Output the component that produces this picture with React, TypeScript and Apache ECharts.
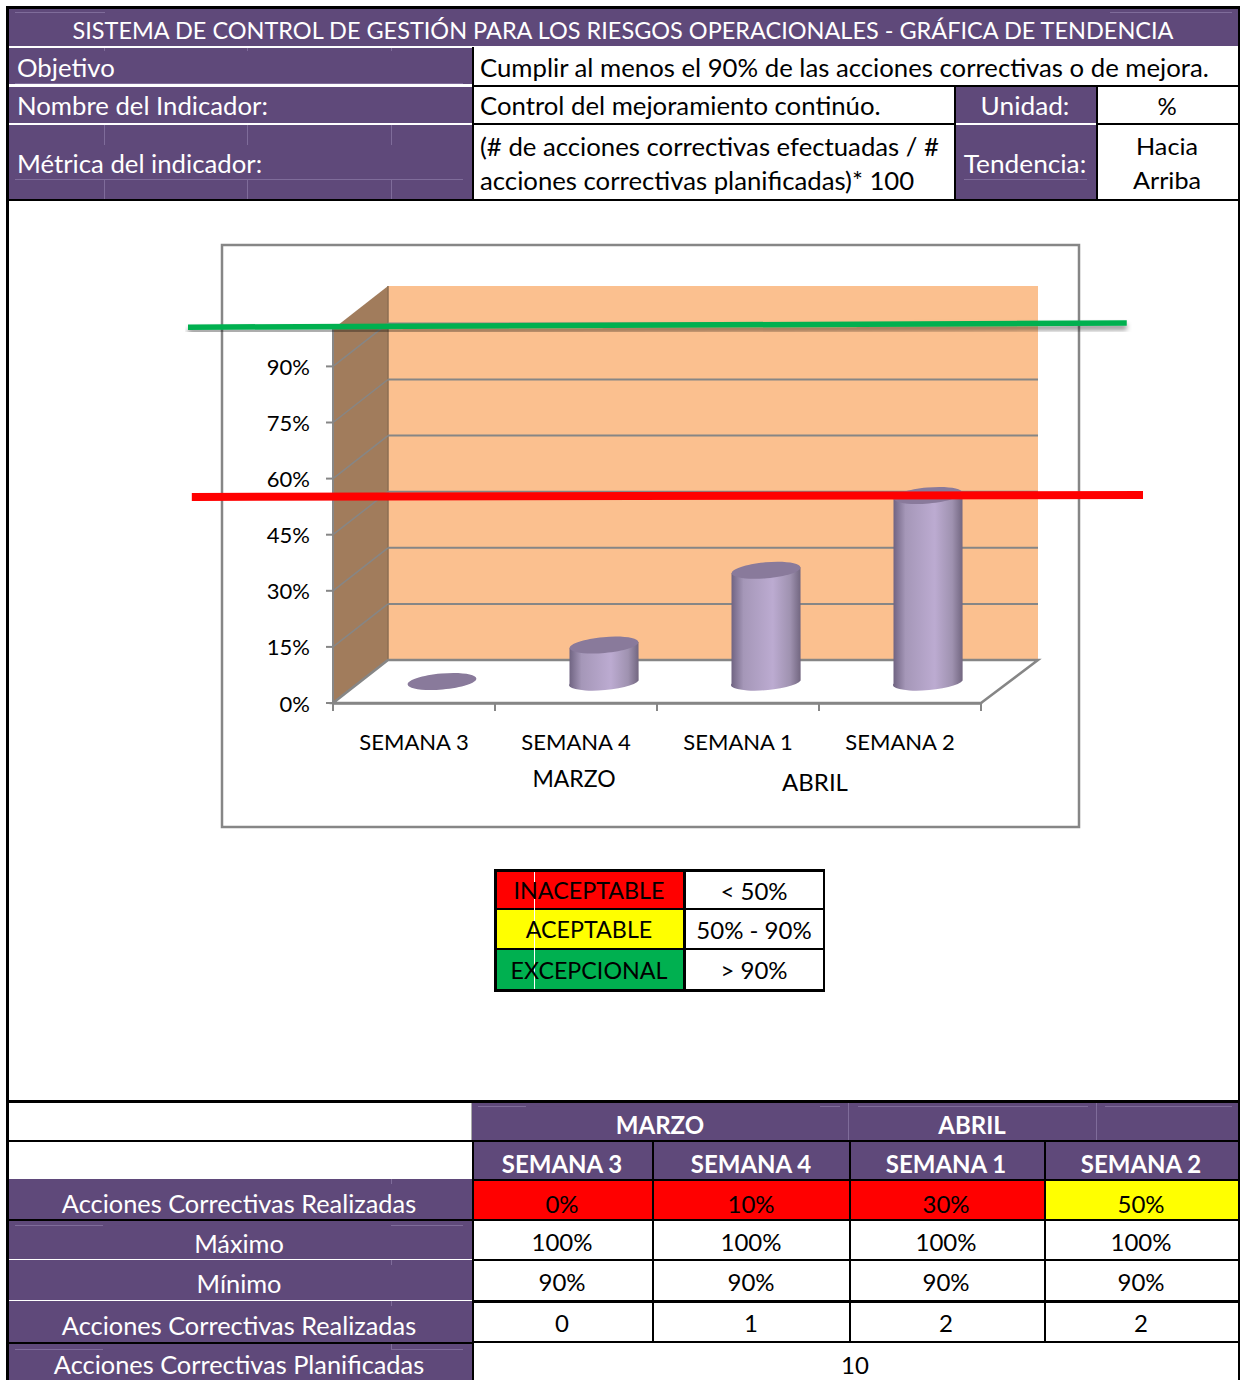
import React, { useEffect, useRef } from "react";
import * as echarts from "echarts";

const FONT = "Lato";

const categories = ["SEMANA 3", "SEMANA 4", "SEMANA 1", "SEMANA 2"];
const monthLabels = ["MARZO", "ABRIL"];
const actualPct = [0, 10, 30, 50];
const maximumPct = [100, 100, 100, 100];
const minimumPct = [90, 90, 90, 90];
const realizedCount = [0, 1, 2, 2];
const plannedCount = 10;
const axisTicks = [0, 15, 30, 45, 60, 75, 90];
const greenLineValues = [100.5, 101.6];
const redLineValues = [55.1, 55.6];
const rowLabels = ["Acciones Correctivas Realizadas", "Máximo", "Mínimo", "Acciones Correctivas Realizadas", "Acciones Correctivas Planificadas"];
const legendNames = ["INACEPTABLE", "ACEPTABLE", "EXCEPCIONAL"];
const legendRanges = ["< 50%", "50% - 90%", "> 90%"];

const PURPLE = "#5f497a";
const FAINT = "#7f6c9a";
const GRAY = "#868686";
const BLACK = "#000000";
const DX = 55;
const DY = -43;

const rect = (x: number, y: number, w: number, h: number, fill: string, z = 1) => ({
  type: "rect", silent: true, z, shape: { x, y, width: w, height: h }, style: { fill },
});
const txt = (text: string, x: number, y: number, opts: any = {}) => ({
  type: "text", silent: true, z: 20, x, y: y - 1,
  style: {
    text, fontFamily: FONT, fontSize: opts.size ?? 24, fontWeight: opts.weight ?? "normal",
    fill: opts.fill ?? "#000", align: opts.align ?? "center", verticalAlign: "middle",
  },
  scaleX: opts.sx ?? 1,
});

function buildGraphic() {
  const g: any[] = [];
  const colX = [472, 652, 849, 1044, 1238];
  const colC = [562, 751, 946, 1141];
  const wide = { size: 25, sx: 1.03 };

  // page outer border
  g.push(rect(6, 6, 3, 1374, BLACK), rect(1238, 6, 2, 1374, BLACK), rect(6, 6, 1234, 3, BLACK));

  // header block
  g.push(rect(9, 9, 1229, 37, PURPLE));
  g.push(rect(9, 48, 463, 36, PURPLE), rect(9, 87, 463, 36, PURPLE), rect(9, 125, 463, 74, PURPLE));
  g.push(rect(472, 47, 2, 153, BLACK));
  g.push(rect(474, 85, 764, 2, BLACK), rect(474, 123, 764, 2, BLACK), rect(6, 199, 1234, 2, BLACK));
  g.push(rect(956, 87, 140, 36, PURPLE), rect(956, 125, 140, 74, PURPLE));
  g.push(rect(954, 87, 2, 112, BLACK), rect(1096, 87, 2, 112, BLACK));
  g.push(rect(956, 123, 140, 2, "#ffffff"));
  // faint cell traces
  g.push(rect(15, 12, 90, 1, FAINT), rect(1110, 12, 122, 1, FAINT), rect(15, 83, 448, 1, FAINT), rect(15, 179, 448, 1, FAINT), rect(964, 179, 123, 1, FAINT));
  [104, 247, 391].forEach((x) => {
    g.push(rect(x, 48, 1, 3, FAINT), rect(x, 125, 1, 20, FAINT), rect(x, 180, 1, 19, FAINT));
  });

  g.push(txt("SISTEMA DE CONTROL DE GESTIÓN PARA LOS RIESGOS OPERACIONALES - GRÁFICA DE TENDENCIA", 623, 31, { fill: "#fff", sx: 0.979 }));
  g.push(txt("Objetivo", 17, 68, { ...wide, fill: "#fff", align: "left" }));
  g.push(txt("Nombre del Indicador:", 17, 106, { ...wide, fill: "#fff", align: "left" }));
  g.push(txt("Métrica del indicador:", 17, 164, { ...wide, fill: "#fff", align: "left" }));
  g.push(txt("Cumplir al menos el 90% de las acciones correctivas o de mejora.", 480, 68, { ...wide, align: "left" }));
  g.push(txt("Control del mejoramiento continúo.", 480, 106, { ...wide, align: "left" }));
  g.push(txt("(# de acciones correctivas efectuadas / #", 480, 147, { ...wide, align: "left" }));
  g.push(txt("acciones correctivas planificadas)* 100", 480, 181, { ...wide, align: "left" }));
  g.push(txt("Unidad:", 1025, 106, { size: 25, sx: 1.05, fill: "#fff" }), txt("Tendencia:", 1025, 164, { size: 25, sx: 1.05, fill: "#fff" }));
  g.push(txt("%", 1167, 106), txt("Hacia", 1167, 147, { sx: 1.05 }), txt("Arriba", 1167, 181, { sx: 1.05 }));

  // chart frame
  g.push({ type: "rect", silent: true, z: 0, shape: { x: 222, y: 245, width: 857, height: 582 }, style: { fill: "#fff", stroke: GRAY, lineWidth: 2.5 } });
  g.push(txt(monthLabels[0], 574, 779, { size: 23 }), txt(monthLabels[1], 815, 782));

  // legend
  const legFill = ["#ff0000", "#ffff00", "#00b050"];
  const legY = [[872, 36], [910, 38], [950, 39]];
  legY.forEach(([y, h], i) => {
    g.push(rect(497, y, 187, h, legFill[i]));
    g.push(txt(legendNames[i], 589, y + h / 2 + 1, { sx: 0.97 }));
    g.push(txt(legendRanges[i], 754, y + h / 2 + 1));
  });
  g.push(rect(534, 872, 1, 117, "#ffffff", 2));
  g.push(rect(494, 869, 331, 3, BLACK), rect(494, 908, 331, 2, BLACK), rect(494, 948, 331, 2, BLACK), rect(494, 989, 331, 3, BLACK));
  g.push(rect(494, 869, 3, 123, BLACK), rect(683, 869, 3, 123, BLACK), rect(823, 869, 2, 123, BLACK));

  // lower table
  g.push(rect(472, 1103, 766, 37, PURPLE), rect(472, 1142, 766, 37, PURPLE));
  g.push(rect(9, 1179, 463, 40, PURPLE), rect(9, 1221, 463, 38, PURPLE), rect(9, 1260, 463, 40, PURPLE), rect(9, 1301, 463, 41, PURPLE), rect(9, 1344, 463, 36, PURPLE));
  actualPct.forEach((v, i) => {
    g.push(rect(colX[i], 1181, colX[i + 1] - colX[i], 38, v < 50 ? "#ff0000" : "#ffff00"));
  });
  g.push(rect(6, 1100, 1234, 3, BLACK), rect(6, 1140, 1234, 2, BLACK), rect(6, 1219, 1234, 2, BLACK));
  g.push(rect(472, 1179, 768, 2, BLACK), rect(472, 1259, 768, 2, BLACK));
  g.push(rect(472, 1300, 768, 3, BLACK), rect(472, 1341, 768, 2, BLACK), rect(6, 1342, 466, 2, BLACK));
  g.push(rect(9, 1259, 463, 1, "#ffffff"), rect(9, 1300, 463, 1, "#ffffff"));
  g.push(rect(472, 1142, 2, 238, BLACK));
  colX.slice(1, 4).forEach((x) => g.push(rect(x, 1142, 2, 201, BLACK)));
  g.push(rect(848, 1103, 1, 37, FAINT), rect(1096, 1103, 1, 37, FAINT), rect(471, 1103, 1, 37, "#aaaaaa"));
  g.push(rect(478, 1106, 48, 1, FAINT), rect(820, 1106, 20, 1, FAINT), rect(858, 1106, 230, 1, FAINT), rect(1105, 1106, 127, 1, FAINT));
  g.push(rect(15, 1225, 88, 1, FAINT), rect(391, 1225, 72, 1, FAINT), rect(15, 1349, 88, 1, FAINT), rect(391, 1349, 72, 1, FAINT));
  [1179, 1260, 1301, 1344].forEach((y) => g.push(rect(391, y, 1, 5, FAINT)));

  g.push(txt(monthLabels[0], 660, 1125, { fill: "#fff", weight: "bold" }), txt(monthLabels[1], 972, 1125, { fill: "#fff", weight: "bold" }));
  const rowY = [1204, 1244, 1284, 1326, 1365];
  rowLabels.forEach((t, i) => g.push(txt(t, 239, rowY[i], { size: 25, sx: 1.015, fill: "#fff" })));
  categories.forEach((c, i) => {
    g.push(txt(c, colC[i], 1164, { fill: "#fff", weight: "bold" }));
    g.push(txt(actualPct[i] + "%", colC[i], 1204));
    g.push(txt(maximumPct[i] + "%", colC[i], 1242));
    g.push(txt(minimumPct[i] + "%", colC[i], 1282));
    g.push(txt(String(realizedCount[i]), colC[i], 1323));
  });
  g.push(txt(String(plannedCount), 855, 1365));
  return g;
}

// back wall, side wall, floor and value-axis ticks, placed from the front-plane axes
const renderWalls = (_p: any, api: any) => {
  const [x0, y0] = api.coord([0, 0]);
  const [x1, y1] = api.coord([4, 100]);
  const bx = x1 + DX + 2;
  const children: any[] = [
    { type: "polygon", shape: { points: [[x0 + DX, y1 + DY], [bx, y1 + DY], [bx, y0 + DY], [x0 + DX, y0 + DY]] }, style: { fill: "#fbc08f" } },
    { type: "polygon", shape: { points: [[x0, y0], [x0 + DX, y0 + DY], [x0 + DX, y1 + DY], [x0, y1]] }, style: { fill: "#a17c5c" } },
    { type: "line", shape: { x1: x0 + DX, y1: y1 + DY, x2: x0 + DX, y2: y0 + DY }, style: { stroke: "#8d6e52", lineWidth: 1.5 } },
    { type: "line", shape: { x1: x0, y1: y1, x2: x0, y2: y0 }, style: { stroke: GRAY, lineWidth: 2 } },
  ];
  axisTicks.forEach((t) => {
    const y = api.coord([0, t])[1];
    if (t > 0) children.push({ type: "line", shape: { x1: x0 + DX, y1: y + DY, x2: bx, y2: y + DY }, style: { stroke: GRAY, lineWidth: 2 } });
    children.push({ type: "line", shape: { x1: x0, y1: y, x2: x0 + DX, y2: y + DY }, style: { stroke: GRAY, lineWidth: 1.5 } });
    children.push({ type: "line", shape: { x1: x0 - 7, y1: y, x2: x0, y2: y }, style: { stroke: GRAY, lineWidth: 2 } });
  });
  children.push({
    type: "polygon",
    shape: { points: [[x0, y0], [x0 + DX, y0 + DY], [bx, y0 + DY], [x1, y0]] },
    style: { fill: "#ffffff", stroke: GRAY, lineWidth: 2.5 },
  });
  return { type: "group", children };
};

const renderCylinder = (_p: any, api: any) => {
  const idx = api.value(0);
  const val = api.value(1);
  const base = api.coord([idx, 0]);
  const top = api.coord([idx, val]);
  const cx = base[0] + DX / 2 + 0.5;
  const by = base[1] + DY / 2;
  const ty = top[1] + DY / 2 + 1;
  const rx = 34.5;
  const ry = 8;
  const tilt = 3;
  const children: any[] = [];
  if (val > 0) {
    children.push({
      type: "path",
      shape: {
        pathData: `M${cx - rx} ${ty + tilt} L${cx - rx} ${by - 1 + tilt} A${rx} ${ry} -5 0 0 ${cx + rx} ${by - 1 - tilt} L${cx + rx} ${ty - tilt} Z`,
      },
      style: {
        fill: new echarts.graphic.LinearGradient(0, 0, 1, 0, [
          { offset: 0, color: "#6e6280" },
          { offset: 0.18, color: "#a597b8" },
          { offset: 0.6, color: "#bcabd1" },
          { offset: 0.85, color: "#9f92b0" },
          { offset: 1, color: "#726680" },
        ]),
      },
    });
  }
  children.push({
    type: "ellipse",
    x: cx, y: val > 0 ? ty : by,
    rotation: (5 * Math.PI) / 180,
    shape: { cx: 0, cy: 0, rx, ry },
    style: { fill: "#897a9b" },
  });
  return { type: "group", children };
};

export default function App() {
  const ref = useRef<HTMLDivElement>(null);
  useEffect(() => {
    document.body.style.margin = "0";
    const chart = echarts.init(ref.current!, undefined, { renderer: "svg" });
    const greenSpan = [0, 0.983];
    const redSpan = [0.004, 1];
    chart.setOption({
      animation: false,
      backgroundColor: "#ffffff",
      graphic: { elements: buildGraphic() },
      grid: [
        { left: 333, top: 329, width: 648, height: 374 },
        // wider overlay: the two target lines run past the plot on both sides
        { left: 188, top: 703 - 3.74 * 110, width: 955, height: 3.74 * 110 },
      ],
      xAxis: [
        {
          type: "category", data: categories, z: 5,
          axisLine: { lineStyle: { color: GRAY, width: 2.5 } },
          axisTick: { show: true, length: 8, lineStyle: { color: GRAY, width: 2 } },
          axisLabel: { margin: 27, fontFamily: FONT, fontSize: 22, color: "#000", interval: 0 },
        },
        { type: "value", min: 0, max: 4, show: false },
        { type: "value", min: 0, max: 1, show: false, gridIndex: 1 },
      ],
      yAxis: [
        {
          type: "value", min: 0, max: 100, interval: 15, z: 5,
          splitLine: { show: false },
          axisLine: { show: false },
          axisTick: { show: false },
          axisLabel: { margin: 23, fontFamily: FONT, fontSize: 22, color: "#000", customValues: axisTicks, formatter: (v: number) => v + "%" },
        },
        { type: "value", min: 0, max: 110, show: false, gridIndex: 1, splitLine: { show: false } },
      ],
      series: [
        { type: "custom", name: "walls", xAxisIndex: 1, yAxisIndex: 0, z: 3, silent: true, clip: false, renderItem: renderWalls, data: [[0, 0]] },
        {
          type: "custom", name: "Acciones Correctivas Realizadas", xAxisIndex: 0, yAxisIndex: 0, z: 6, silent: true, clip: false,
          renderItem: renderCylinder, encode: { x: 0, y: 1 },
          data: actualPct.map((v, i) => [i, v]),
        },
        {
          type: "line", name: "green", xAxisIndex: 2, yAxisIndex: 1, z: 8, clip: false, symbol: "none", silent: true,
          lineStyle: { color: "#00b050", width: 5.5, shadowColor: "rgba(0,0,0,0.45)", shadowBlur: 5, shadowOffsetY: 4 },
          data: greenLineValues.map((v, i) => [greenSpan[i], v]),
        },
        {
          type: "line", name: "red", xAxisIndex: 2, yAxisIndex: 1, z: 9, clip: false, symbol: "none", silent: true,
          lineStyle: { color: "#ff0000", width: 8 },
          data: redLineValues.map((v, i) => [redSpan[i], v]),
        },
      ],
    });
    return () => chart.dispose();
  }, []);
  return <div ref={ref} style={{ position: "absolute", left: 0, top: 0, width: 1240, height: 1380 }} />;
}
